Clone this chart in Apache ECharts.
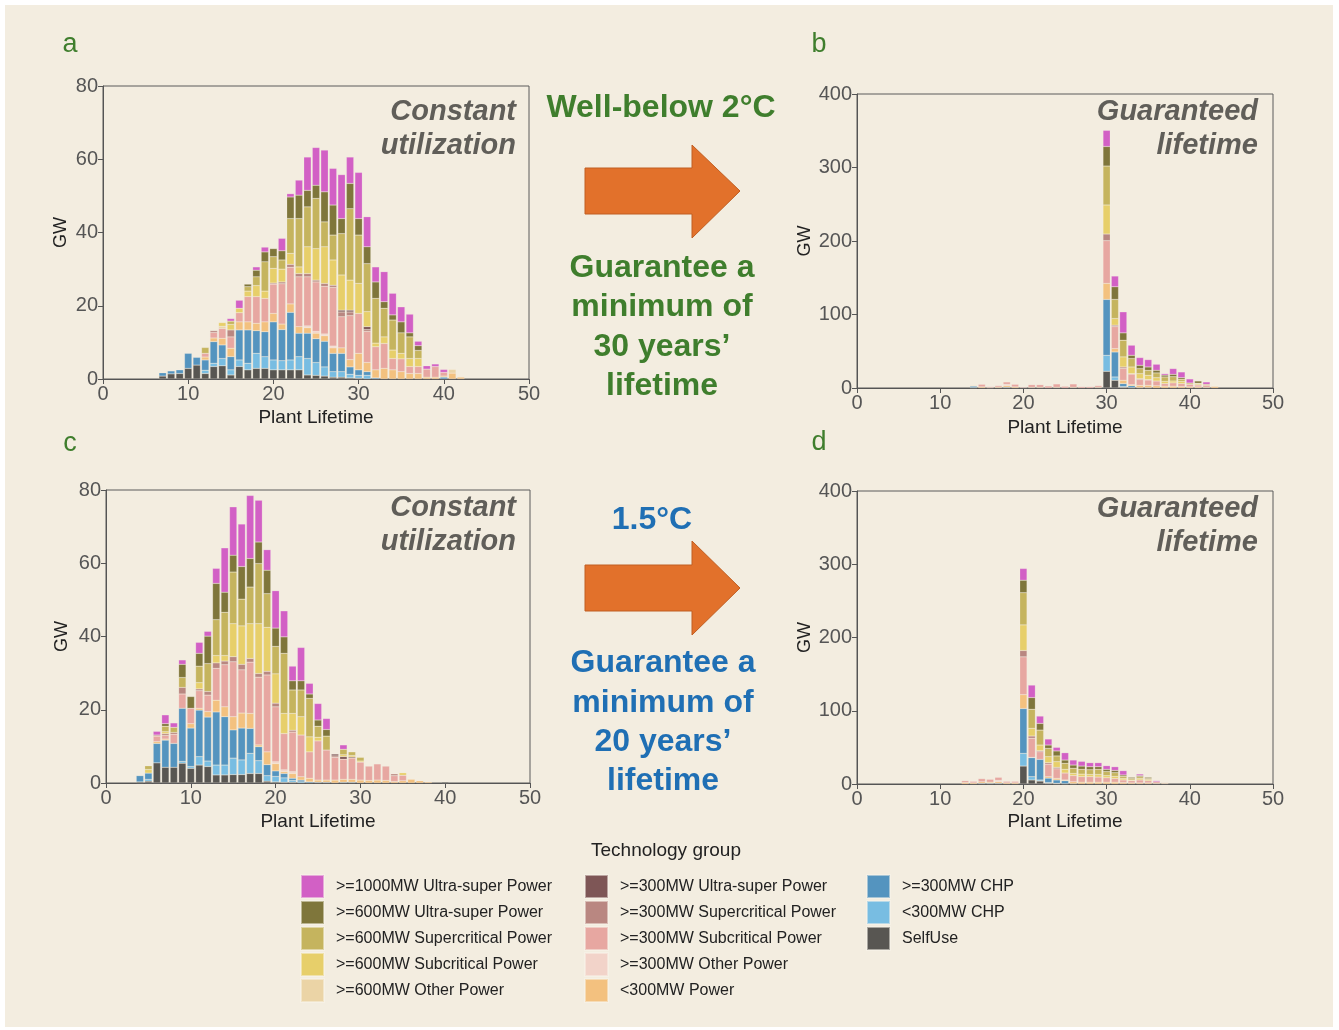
<!DOCTYPE html>
<html><head><meta charset="utf-8">
<script src="https://cdn.jsdelivr.net/npm/echarts/dist/echarts.min.js"></script>
<style>html,body{margin:0;padding:0;background:#fff}#c{width:1339px;height:1030px}</style>
</head><body><div id="c"></div><script>
// ---------- series names / colours (stack order bottom -> top) ----------
const SERIES_NAMES = ['SelfUse','<300MW CHP','>=300MW CHP','<300MW Power','>=300MW Other Power',
  '>=300MW Subcritical Power','>=300MW Supercritical Power','>=300MW Ultra-super Power',
  '>=600MW Other Power','>=600MW Subcritical Power','>=600MW Supercritical Power',
  '>=600MW Ultra-super Power','>=1000MW Ultra-super Power'];
const SERIES_COLORS = ['#585652','#78BDE2','#5494BF','#F3C17F','#F2D3C9','#E7A7A1','#B98781','#7E5656',
  '#EBD4A6','#E7CF6A','#C5B45E','#7F763B','#D260C5'];
const LEGEND_COL1 = ['>=1000MW Ultra-super Power','>=600MW Ultra-super Power','>=600MW Supercritical Power','>=600MW Subcritical Power','>=600MW Other Power'];
const LEGEND_COL2 = ['>=300MW Ultra-super Power','>=300MW Supercritical Power','>=300MW Subcritical Power','>=300MW Other Power','<300MW Power'];
const LEGEND_COL3 = ['>=300MW CHP','<300MW CHP','SelfUse'];
const LIFETIME_MAX = 50;        // x axis 0..50, labelled every 10
const X_LABEL_STEP = 10;
const GW_TICKS_SMALL = [0, 80, 20];
const GW_TICKS_LARGE = [0, 400, 100];

// ---------- panel a (Constant utilization, well-below 2C), lifetimes 7..42 ----------
const A_START = 7;
const A_S    = [0.8,1.4,1.5,2.9,3.8, 1.5,3.4,3.6,1.1,3.4, 2.5,2.9,2.9,2.5,2.5, 2.5,2.5,1.1,1.0,0.8, 0.5,0.5,0.3,0.2,0, 0,0,0,0,0, 0,0,0,0,0, 0];
const A_C1   = [0,0,0,0,0, 0.9,0.9,2.0,1.4,1.8, 1.8,4.1,3.2,2.7,2.5, 2.7,3.6,4.5,3.5,2.5, 1.5,1.5,1.0,0.8,1.0, 0,0,0,0,0, 0,0,0,0,0, 0];
const A_C2   = [0.9,0.8,1.0,4.1,2.1, 2.8,5.9,3.7,3.6,8.2, 9.1,6.2,6.8,10.4,8.5, 13.0,6.4,6.9,6.5,7.0, 5.0,5.0,2.0,1.5,1.0, 0.3,0,0,0,0, 0,0,0,0.5,0, 0];
const A_P    = [0,0,0,0,0, 0.8,1.0,1.8,2.3,2.2, 2.2,2.0,2.7,2.3,1.5, 2.3,1.8,1.5,1.5,1.5, 1.5,1.5,2.0,4.5,2.5, 2.2,2.9,2.5,2.0,1.5, 1.5,0.5,0.5,0.3,1.6, 0.5];
const A_O3   = [0,0,0,0,0, 0,0,0,0,0, 0,0,0,0,0, 0,0,0.5,0.5,0.5, 0.5,0,0,0,0, 0,0,0,0,0, 0,0,0,0,0, 0];
const A_SUB3 = [0,0,0,0,0, 1.0,1.5,2.7,3.1,2.5, 6.9,7.3,6.4,8.0,11.0, 10.0,13.6,13.4,13.5,13.0, 16.0,8.5,12.0,10.9,8.5, 6.3,6.8,3.1,3.5,1.9, 1.9,2.2,2.9,1.0,0, 0];
const A_SUP3 = [0,0,0,0,0, 0,0.5,0,1.9,0, 0,0,0,0.3,0.5, 0.8,0.9,0.9,0.5,0.8, 0.6,1.3,1.0,0,0.5, 0,0,0,0,0, 0,0,0,0,0, 0];
const A_U3   = [0,0,0,0,0, 0,0,0,0,0, 0,0,0,0,0, 0,0,0,0,0, 0,0.5,0.5,0,0.8, 0,0,0,0,0, 0,0,0,0,0, 0];
const A_O6   = [0,0,0,0,0, 0,0,0.6,0,0, 0,0,0,0,0, 0,0,0,0,0, 0,0,0,0,0, 0,0,0,0,0, 0,0,0,0,1.0, 0];
const A_SUB6 = [0,0,0,0,0, 0,0,1.0,1.5,1.2, 1.5,3.0,2.0,4.0,3.5, 3.0,1.8,7.3,8.6,10.0, 6.9,9.6,8.2,8.2,4.1, 1.0,1.8,2.3,1.5,2.2, 2.2,0,0,0,0, 0];
const A_SUP6 = [0,0,0,0,0, 1.6,0,0,0.9,0, 1.2,2.4,8.0,3.2,2.5, 9.5,13.2,10.9,13.7,6.8, 6.8,11.3,19.5,13.2,13.1, 12.2,7.8,8.2,5.6,5.9, 2.2,0,0,0,0, 0];
const A_U6   = [0,0,0,0,0, 0,0,0,0,0, 0.7,1.8,2.7,2.2,2.5, 5.9,6.4,4.5,3.6,8.2, 8.2,4.1,6.9,4.5,4.6, 4.5,1.8,1.4,3.0,1.1, 1.3,0,0,0,0, 0];
const A_U10  = [0,0,0,0,0, 0,0,0,0.7,2.2, 0,0.9,1.3,0,3.4, 0.9,4.1,9.1,10.3,11.4, 10.0,12.0,7.2,12.6,8.2, 4.1,8.2,5.9,4.1,5.1, 1.2,0.9,0.7,0.8,0, 0];

// ---------- panel b (Guaranteed 30-year lifetime), lifetimes 14..43 ----------
const B_START = 14;
const B_S    = [0.5,0,0,0,0, 0,0,0,0,0, 0,0,0,0,0, 0,22.7,10.5,1.0,0, 0,0,0,0,0, 0,0,0,0,0];
const B_C1   = [0,0,0,0,0, 0,0,0,0,0, 0,0,0,0,0, 0,21.8,4.5,1.0,0.5, 0,0,0,0,0, 0,0,0,0,0];
const B_C2   = [2.0,0,0,0,1.0, 0,0,0,0,0, 0,0,0,0,0, 0,76.0,34.0,4.0,2.5, 0.5,0.5,0,0,0, 0,0,0,0,0];
const B_P    = [0.7,1.5,0.5,1.2,2.0, 1.5,0,1.0,1.0,0, 1.0,0,1.0,0,0, 1.0,21.8,4.6,4.5,1.5, 3.1,3.1,3.0,2.5,2.5, 2.0,1.5,1.5,1.0,2.2];
const B_O3   = [0,0,0,0,2.0, 0,0,0,0,0, 0,0,0,0,0, 0,0,0,0,0, 0,0,0,0,0, 0,0,0,0,0];
const B_SUB3 = [0,3.5,1.3,2.0,3.2, 3.5,1.0,3.5,3.5,2.7, 4.5,2.3,4.5,1.8,1.8, 2.2,58.2,30.0,16.1,14.5, 8.0,7.3,6.5,3.5,4.5, 4.0,3.5,2.5,2.5,0.5];
const B_SUP3 = [0,0,0,0,0, 0,0,0,0,0, 0,0,0,0,0, 0,9.0,1.9,2.0,0.5, 1.1,0.5,0,0,0, 0,0,0,0,0];
const B_U3   = [];
const B_O6   = [];
const B_SUB6 = [0,0,0,0,0, 0,0,0,0,0, 0,0,0,0,0, 0,39.5,9.0,13.7,9.1, 6.8,5.9,4.6,3.0,2.5, 3.0,0,1.5,0,0];
const B_SUP6 = [0,0,0,0,0, 0,0,0,0,0, 0,0,0,0,0, 0,53.0,26.0,22.7,11.4, 6.8,6.7,6.4,6.0,5.9, 3.0,1.8,1.0,1.5,0];
const B_U6   = [0,0,0,0,0, 0,0,0,0,0, 0,0,0,0,0, 0,26.6,17.2,10.0,4.5, 4.6,4.6,3.6,2.5,3.2, 2.1,0,3.0,0,0];
const B_U10  = [0,0,0,0,0, 0,0,0,0,0, 0,0,0,0,0, 0,21.9,14.6,28.6,13.7, 10.5,10.0,8.2,2.0,7.8, 7.7,5.5,0,3.2,0];

// ---------- panel c (Constant utilization, 1.5C), lifetimes 4..40 ----------
const C_START = 4;
const C_S    = [0.3,0.5,5.5,4.3,4.3, 5.4,4.0,4.9,4.5,2.2, 2.2,2.3,2.3,2.6,2.6, 0.5,0.3,0.2,0.2,0, 0,0,0,0,0, 0,0,0,0,0, 0,0,0,0,0, 0,0.3];
const C_C1   = [0,0.5,0,0,0, 0.5,0.5,2.3,1.5,2.7, 2.7,4.5,4.0,5.5,3.5, 1.5,1.5,1.2,0.5,0.3, 0,0,0,0,0, 0,0,0,0,0, 0,0,0,0,0, 0,0];
const C_C2   = [1.7,1.7,5.3,7.4,6.5, 14.5,10.5,12.7,12.0,14.5, 13.2,7.7,8.7,6.8,3.8, 3.0,1.5,1.2,0.6,0.5, 0.3,0.2,0.2,0,0.2, 0.2,0,0,0,0, 0,0,0,0,0, 0,0];
const C_P    = [0,0,0.5,0.3,0, 0,1.2,0.5,1.5,3.2, 2.7,3.6,4.1,4.1,0.5, 3.5,2.0,0.5,1.3,0.9, 1.0,0.6,0.6,0.8,0.8, 0.8,0.8,0.7,0.8,0.7, 0.4,0.6,1.0,0.6,0.3, 0,0];
const C_O3   = [0,0,0,0,0, 0,0,0,0,0, 0,0,0,0,0, 0,0.5,0.5,0.5,0, 0,0,0,0,0, 0,0,0,0,0, 0,0,0,0,0, 0,0];
const C_SUB3 = [0,0,1.5,1.0,2.5, 3.9,4.2,4.8,4.5,8.7, 11.5,15.0,11.8,14.0,18.5, 21.0,15.0,9.9,10.8,11.4, 7.2,10.7,8.2,6.2,5.5, 5.8,4.9,3.9,4.4,3.9, 1.6,1.5,0,0,0, 0,0];
const C_SUP3 = [0,0,0.3,0.5,0.5, 1.8,0,0.5,1.0,1.5, 1.0,1.4,1.5,1.0,1.0, 1.0,1.0,0,0.5,0, 0,0,0,0.4,0, 0,0,0,0,0, 0.5,0,0,0,0, 0,0];
const C_U3   = [0,0,0,0,0, 0,0,0,0,0, 0,0,0,0,0, 0,0,0,0,0, 0,0,0,0.5,0.7, 0.3,0,0,0,0, 0,0,0,0,0, 0,0];
const C_O6   = [];
const C_SUB6 = [0,1.0,0,0.5,0, 0,0,1.7,0,2.0, 1.5,9.0,10.5,9.5,13.6, 12.0,8.0,5.5,4.6,5.0, 4.1,1.0,0,0,0.5, 0.4,0.3,0,0,0, 0,0.7,0,0,0, 0,0];
const C_SUP6 = [0,1.0,0,1.5,1.4, 2.7,0,4.5,7.6,9.8, 11.8,14.1,7.3,10.0,16.4, 9.2,7.5,16.4,6.4,7.3, 10.5,3.0,3.8,0,1.5, 1.0,1.0,0,0,0, 0,0,0,0,0, 0,0];
const C_U6   = [0,0,0,0.7,0, 3.6,3.2,3.5,7.5,9.9, 5.5,4.6,8.9,7.8,5.9, 6.4,5.0,4.5,2.5,2.5, 1.2,1.7,1.8,0,0, 0,0,0,0,0, 0,0,0,0,0, 0,0];
const C_U10  = [0,0,1.0,2.4,1.2, 1.2,0,3.0,1.3,4.1, 12.1,13.2,11.6,17.2,11.4, 5.6,10.2,7.1,4.0,9.1, 2.9,4.5,3.0,0,1.2, 0,0,0,0,0, 0,0,0,0,0, 0,0];

// ---------- panel d (Guaranteed 20-year lifetime), lifetimes 13..37 ----------
const D_START = 13;
const D_S    = [0,0,0,0,0, 0,0,24.5,5.5,4.0, 1.0,0.5,0,0,0, 0,0,0,0,0, 0,0,0,0,0];
const D_C1   = [0,0,0,0,0, 0,0,17.3,4.5,1.5, 1.0,0.5,0.5,0,0, 0,0,0,0,0, 0,0,0,0,0];
const D_C2   = [0,0,1.0,1.0,1.0, 0,0,61.2,26.0,28.1, 6.0,4.5,4.0,0.5,0, 0,0,0,0,0, 0,0,0,0,0];
const D_P    = [2.0,1.5,2.0,1.5,2.0, 1.5,1.5,19.0,0.4,0, 2.0,2.2,1.0,2.5,2.5, 2.5,2.5,2.5,2.5,2.0, 1.5,1.5,1.5,1.0,1.0];
const D_O3   = [0,0,0,0,2.0, 0,0,0,0,0, 0,0,0,0,0, 0,0,0,0,0, 0,0,0,0,0];
const D_SUB3 = [2.5,2.1,4.3,3.9,4.1, 2.1,2.1,51.6,26.0,10.4, 17.1,13.0,9.5,8.5,7.5, 7.5,7.0,6.0,5.0,3.5, 3.0,4.0,3.0,2.0,0.8];
const D_SUP3 = [0,0,0,0,0, 0,0,8.6,3.1,1.5, 2.0,2.0,0,0,0, 0,0,0,0,0, 0,0,0,0,0];
const D_U3   = [];
const D_O6   = [];
const D_SUB6 = [0,0,0,0,0, 0,0,35.0,10.5,7.7, 8.2,7.8,5.0,3.0,3.5, 3.0,3.5,3.0,3.0,2.0, 1.0,2.0,1.5,0,0];
const D_SUP6 = [0,0,0,0,0, 0,0,44.0,26.0,20.4, 11.3,7.8,8.2,6.9,6.5, 6.5,7.0,5.5,5.0,3.0, 2.0,2.5,1.5,0,0];
const D_U6   = [0,0,0,0,0, 0,0,17.0,16.0,9.1, 4.6,6.8,4.5,4.5,4.5, 4.1,3.6,3.0,3.0,1.8, 1.6,1.5,1.6,0,0];
const D_U10  = [0,0,0,0,0, 0,0,16.0,17.0,10.0, 8.2,4.9,10.0,6.8,6.4, 5.5,5.5,5.0,5.1,5.9, 0,2.1,0,1.5,0];

// ---------- build ----------
const FONT = '"Liberation Sans", Arial, Helvetica, sans-serif';
const LIFETIMES = [];
for (let i = 0; i <= LIFETIME_MAX; i++) LIFETIMES.push(String(i));

const PANELS = [
  {start:A_START, arrays:[A_S,A_C1,A_C2,A_P,A_O3,A_SUB3,A_SUP3,A_U3,A_O6,A_SUB6,A_SUP6,A_U6,A_U10],
   grid:{left:103, top:86, width:426, height:293}, yt:GW_TICKS_SMALL, yGap:33, xGap:29},
  {start:B_START, arrays:[B_S,B_C1,B_C2,B_P,B_O3,B_SUB3,B_SUP3,B_U3,B_O6,B_SUB6,B_SUP6,B_U6,B_U10],
   grid:{left:857, top:94, width:416, height:294}, yt:GW_TICKS_LARGE, yGap:43, xGap:30},
  {start:C_START, arrays:[C_S,C_C1,C_C2,C_P,C_O3,C_SUB3,C_SUP3,C_U3,C_O6,C_SUB6,C_SUP6,C_U6,C_U10],
   grid:{left:106, top:490, width:424, height:293}, yt:GW_TICKS_SMALL, yGap:35, xGap:29},
  {start:D_START, arrays:[D_S,D_C1,D_C2,D_P,D_O3,D_SUB3,D_SUP3,D_U3,D_O6,D_SUB6,D_SUP6,D_U6,D_U10],
   grid:{left:857, top:491, width:416, height:293}, yt:GW_TICKS_LARGE, yGap:43, xGap:28}
];

const grids = [], xAxes = [], yAxes = [], series = [];
PANELS.forEach((p, i) => {
  grids.push(Object.assign({show:true, borderColor:'#5a5a5a', borderWidth:1, backgroundColor:'transparent'}, p.grid));
  xAxes.push({type:'category', gridIndex:i, data:LIFETIMES, boundaryGap:false,
    name:'Plant Lifetime', nameLocation:'middle', nameGap:p.xGap,
    nameTextStyle:{fontSize:19, color:'#222', fontFamily:FONT},
    axisLine:{show:true, onZero:false, lineStyle:{color:'#555'}},
    axisTick:{show:true, length:5, interval:X_LABEL_STEP - 1, lineStyle:{color:'#555'}},
    axisLabel:{fontSize:20, color:'#555', margin:5, fontFamily:FONT, interval:X_LABEL_STEP - 1,
      showMinLabel:true, showMaxLabel:true},
    splitLine:{show:false}});
  yAxes.push({type:'value', gridIndex:i, min:p.yt[0], max:p.yt[1], interval:p.yt[2],
    name:'GW', nameLocation:'middle', nameGap:p.yGap, nameRotate:90,
    nameTextStyle:{fontSize:18, color:'#222', fontFamily:FONT},
    axisLine:{show:true, lineStyle:{color:'#555'}},
    axisTick:{show:true, length:5, lineStyle:{color:'#555'}},
    axisLabel:{fontSize:20, color:'#555', margin:5, fontFamily:FONT},
    splitLine:{show:false}});
  SERIES_NAMES.forEach((name, k) => {
    const arr = p.arrays[k];
    const data = LIFETIMES.map((_, x) => {
      const v = arr[x - p.start];
      return (v === undefined || v === 0) ? null : v;
    });
    series.push({type:'bar', name, xAxisIndex:i, yAxisIndex:i, stack:'p'+i, data,
      barWidth:'86%', itemStyle:{color:SERIES_COLORS[k], borderColor:'rgba(250,245,235,0.5)', borderWidth:0.4},
      emphasis:{disabled:true}, animation:false});
  });
});

function legendCol(left, data) {
  return {show:true, left, top:874, orient:'vertical', data, icon:'rect', itemWidth:23, itemHeight:23, itemGap:1,
    selectedMode:false, padding:0, textStyle:{fontSize:16, color:'#222', fontFamily:FONT, padding:[0,0,0,7]}};
}

function txt(x, y, s, font, color, align) {
  const a = align || 'center';
  return {type:'text', x, y, silent:true, z:100,
    style:{text:s, font, fill:color, align:a, verticalAlign:'middle', textAlign:a, textVerticalAlign:'middle'}};
}
const GREEN = '#3F7E2D', BLUE = '#1F6FB4', GRAYT = '#605E59', ORANGE = '#E2712B';
const BIG = 'bold 32px ' + FONT;
const ANN = 'italic bold 29px ' + FONT;
const LET = '27px ' + FONT;

const graphic = [
  {type:'rect', shape:{x:5, y:5, width:1328, height:1022}, style:{fill:'#F3EDE0'}, z:-100, silent:true},
  txt(70, 45, 'a', LET, GREEN), txt(819, 45, 'b', LET, GREEN), txt(70, 444, 'c', LET, GREEN), txt(819, 443, 'd', LET, GREEN),
  txt(661, 108, 'Well-below 2°C', BIG, GREEN),
  txt(662, 268, 'Guarantee a', BIG, GREEN), txt(662, 307, 'minimum of', BIG, GREEN),
  txt(662, 347, '30 years’', BIG, GREEN), txt(662, 386, 'lifetime', BIG, GREEN),
  txt(652, 520, '1.5°C', BIG, BLUE),
  txt(663, 663, 'Guarantee a', BIG, BLUE), txt(663, 703, 'minimum of', BIG, BLUE),
  txt(663, 742, '20 years’', BIG, BLUE), txt(663, 781, 'lifetime', BIG, BLUE),
  txt(516, 112, 'Constant', ANN, GRAYT, 'right'), txt(516, 146, 'utilization', ANN, GRAYT, 'right'),
  txt(516, 508, 'Constant', ANN, GRAYT, 'right'), txt(516, 542, 'utilization', ANN, GRAYT, 'right'),
  txt(1258, 112, 'Guaranteed', ANN, GRAYT, 'right'), txt(1258, 146, 'lifetime', ANN, GRAYT, 'right'),
  txt(1258, 509, 'Guaranteed', ANN, GRAYT, 'right'), txt(1258, 543, 'lifetime', ANN, GRAYT, 'right'),
  txt(666, 851, 'Technology group', '19px ' + FONT, '#222'),
  {type:'polygon', silent:true, z:50, shape:{points:[[585,168],[692,168],[692,145],[740,191],[692,238],[692,214],[585,214]]},
    style:{fill:ORANGE, stroke:'#C05E22', lineWidth:1}},
  {type:'polygon', silent:true, z:50, shape:{points:[[585,565],[692,565],[692,541],[740,588],[692,635],[692,611],[585,611]]},
    style:{fill:ORANGE, stroke:'#C05E22', lineWidth:1}}
];

const chart = echarts.init(document.getElementById('c'), null, {renderer:'canvas'});
chart.setOption({
  backgroundColor:'#ffffff',
  animation:false,
  textStyle:{fontFamily:FONT},
  grid:grids, xAxis:xAxes, yAxis:yAxes, series,
  legend:[legendCol(300, LEGEND_COL1), legendCol(584, LEGEND_COL2), legendCol(866, LEGEND_COL3)],
  graphic
});
</script></body></html>
